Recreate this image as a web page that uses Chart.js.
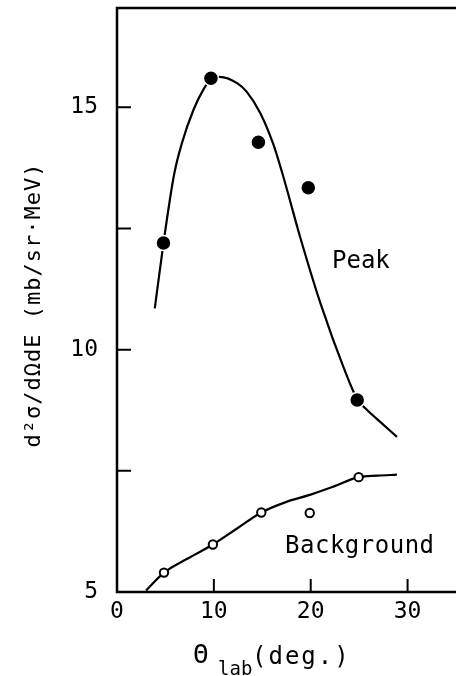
<!DOCTYPE html>
<html lang="en">
<head>
<meta charset="UTF-8">
<title>Peak and background cross sections</title>
<script src="https://cdn.jsdelivr.net/npm/chart.js"></script>
<style>
  * { margin: 0; padding: 0; box-sizing: border-box; }
  body { background: #fff; width: 456px; height: 676px; overflow: hidden; }
  #wrap { position: relative; width: 456px; height: 676px; }
</style>
</head>
<body>
<div id="wrap"><canvas id="xsec" width="456" height="676"></canvas></div>
<script>
// measured points: lab angle (deg) and d2sigma/dOmega dE (mb/sr MeV)
const peakAngles = [4.8, 9.7, 14.6, 19.75, 24.8];
const peakValues = [12.2, 15.6, 14.28, 13.34, 8.96];
const bgAngles = [4.85, 9.9, 14.9, 19.9, 24.95];
const bgValues = [5.4, 5.98, 6.64, 6.63, 7.37];

// guide curves drawn through the points
const peakCurveX = [3.9, 4.8, 5.9, 6.7, 7.9, 8.9, 9.7, 10.6, 12.4, 13.4, 14.8, 16.1, 17.1, 18.9, 21.0, 23.5, 24.8, 25.8, 27.4, 28.9];
const peakCurveY = [10.85, 12.2, 13.62, 14.26, 14.95, 15.36, 15.58, 15.63, 15.5, 15.32, 14.88, 14.26, 13.62, 12.33, 10.96, 9.58, 8.98, 8.76, 8.47, 8.2];
const bgCurveX = [3.0, 4.85, 7.2, 9.9, 12.4, 14.9, 17.5, 20.0, 22.3, 24.95, 26.9, 28.9];
const bgCurveY = [5.03, 5.4, 5.68, 5.98, 6.31, 6.64, 6.86, 7.01, 7.17, 7.37, 7.4, 7.42];

// axis ticks: labelled values and inward tick marks
const xLabels = [0, 10, 20, 30];
const yLabels = [5, 10, 15];
const xMarks = [10, 20, 30];
const yMarks = [7.5, 10, 12.5, 15];

const FONT = "'DejaVu Sans Mono', monospace";
const pts = (xs, ys) => xs.map((x, i) => ({ x: x, y: ys[i] }));

// no extra room for the end tick labels, so the plot fills the frame
const noPad = s => {
  s.paddingLeft = 0;
  s.paddingRight = 0;
  s.paddingTop = 0;
  s.paddingBottom = 0;
};

// frame (left, bottom, top) and inward tick marks
const framePlugin = {
  id: 'frame',
  afterDraw(chart) {
    const { ctx, chartArea: a, scales: { x, y } } = chart;
    ctx.save();
    ctx.strokeStyle = '#000';
    ctx.lineWidth = 2.5;
    ctx.beginPath();
    ctx.moveTo(a.right, a.top);
    ctx.lineTo(a.left, a.top);
    ctx.lineTo(a.left, a.bottom);
    ctx.lineTo(a.right, a.bottom);
    ctx.stroke();
    ctx.lineWidth = 2;
    ctx.beginPath();
    xMarks.forEach(v => {
      const px = x.getPixelForValue(v);
      ctx.moveTo(px, a.bottom);
      ctx.lineTo(px, a.bottom - 13);
    });
    yMarks.forEach(v => {
      const py = y.getPixelForValue(v);
      ctx.moveTo(a.left, py);
      ctx.lineTo(a.left + 14, py);
    });
    ctx.stroke();
    ctx.restore();
  }
};

// curve names and axis titles
const textPlugin = {
  id: 'texts',
  afterDraw(chart) {
    const { ctx, scales: { x, y } } = chart;
    ctx.save();
    ctx.fillStyle = '#000';
    ctx.textBaseline = 'alphabetic';
    ctx.textAlign = 'left';
    ctx.font = '24px ' + FONT;
    ctx.fillText('Peak', x.getPixelForValue(22.2), y.getPixelForValue(11.69));
    ctx.letterSpacing = '0.5px';
    ctx.fillText('Background', x.getPixelForValue(17.35), y.getPixelForValue(5.8));

    // x title: theta with subscript
    ctx.letterSpacing = '0px';
    ctx.font = '26px ' + FONT;
    ctx.fillText('\u0398', 193, 663);
    ctx.font = '19px ' + FONT;
    ctx.fillText('lab', 218, 675);
    ctx.font = '24px ' + FONT;
    ctx.letterSpacing = '2px';
    ctx.fillText('(deg.)', 252, 664);

    // y title, rotated
    ctx.translate(40, 305);
    ctx.rotate(-Math.PI / 2);
    ctx.textAlign = 'center';
    ctx.font = '22px ' + FONT;
    ctx.letterSpacing = '1px';
    ctx.fillText('d\u00b2\u03c3/d\u03a9dE (mb/sr\u00b7MeV)', 0, 0);
    ctx.restore();
  }
};

new Chart(document.getElementById('xsec'), {
  type: 'scatter',
  data: {
    datasets: [
      {
        label: 'Peak data',
        data: pts(peakAngles, peakValues),
        pointRadius: 7.5,
        pointBackgroundColor: '#000',
        pointBorderColor: '#fff',
        pointBorderWidth: 1.5,
        order: 0
      },
      {
        label: 'Background data',
        data: pts(bgAngles, bgValues),
        pointRadius: 4.2,
        pointBackgroundColor: '#fff',
        pointBorderColor: '#000',
        pointBorderWidth: 2,
        order: 0
      },
      {
        label: 'Peak',
        data: pts(peakCurveX, peakCurveY),
        showLine: true,
        borderColor: '#000',
        borderWidth: 2.2,
        pointRadius: 0,
        cubicInterpolationMode: 'monotone',
        order: 1
      },
      {
        label: 'Background',
        data: pts(bgCurveX, bgCurveY),
        showLine: true,
        borderColor: '#000',
        borderWidth: 2.2,
        pointRadius: 0,
        cubicInterpolationMode: 'monotone',
        order: 1
      }
    ]
  },
  options: {
    responsive: false,
    animation: false,
    layout: { autoPadding: false, padding: { top: 8, right: 0, left: 0, bottom: 0 } },
    plugins: { legend: { display: false }, tooltip: { enabled: false } },
    scales: {
      x: {
        type: 'linear',
        min: 0,
        max: 35,
        grid: { display: false, drawTicks: false },
        border: { display: false },
        afterFit: s => { s.height = 84; noPad(s); },
        ticks: {
          stepSize: 10,
          autoSkip: false,
          padding: 6,
          color: '#000',
          font: { family: FONT, size: 23 },
          callback: v => xLabels.includes(v) ? String(v) : ''
        }
      },
      y: {
        min: 5,
        max: 17.05,
        grid: { display: false, drawTicks: false },
        border: { display: false },
        afterFit: s => { s.width = 117; noPad(s); },
        ticks: {
          stepSize: 2.5,
          autoSkip: false,
          padding: 19,
          color: '#000',
          font: { family: FONT, size: 23 },
          callback: v => yLabels.includes(v) ? String(v) : ''
        }
      }
    }
  },
  plugins: [framePlugin, textPlugin]
});
</script>
</body>
</html>
